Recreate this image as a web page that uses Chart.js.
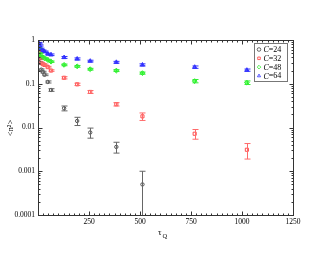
<!DOCTYPE html>
<html>
<head>
<meta charset="utf-8">
<script src="https://cdn.jsdelivr.net/npm/chart.js"></script>
<style>
  html, body { margin: 0; padding: 0; background: #fff; }
  #wrap { width: 330px; height: 255px; }
</style>
</head>
<body>
<div id="wrap"><canvas id="c" width="330" height="255"></canvas></div>
<script>
// ======= DATA =======
const tau = [4, 8, 16, 24, 32, 48, 64, 128, 192, 256, 384, 512, 768, 1024];
const tau24 = [4, 8, 16, 24, 32, 48, 64, 128, 192, 256, 384, 512];

const c24 = [0.37, 0.30, 0.21, 0.185, 0.16, 0.11, 0.072, 0.0275, 0.0141, 0.0077, 0.0036, 0.0005];
const c24Err = [0.01, 0.01, 0.008, 0.008, 0.007, 0.006, 0.005, 0.0035, 0.003, 0.002, 0.001, 0.0005];

const c32 = [0.53, 0.38, 0.30, 0.28, 0.27, 0.24, 0.20, 0.137, 0.097, 0.065, 0.034, 0.018, 0.0072, 0.0031];
const c32Err = [0.02, 0.015, 0.01, 0.01, 0.01, 0.01, 0.008, 0.008, 0.006, 0.005, 0.003, 0.0035, 0.0018, 0.0012];

const c48 = [0.63, 0.51, 0.43, 0.40, 0.38, 0.35, 0.32, 0.27, 0.25, 0.215, 0.20, 0.175, 0.115, 0.106];
const c48Err = [0.02, 0.015, 0.015, 0.012, 0.012, 0.012, 0.012, 0.012, 0.012, 0.01, 0.01, 0.01, 0.01, 0.01];

const c64 = [0.85, 0.75, 0.63, 0.57, 0.54, 0.48, 0.46, 0.40, 0.37, 0.33, 0.31, 0.27, 0.24, 0.205];
const c64Err = [0.03, 0.025, 0.02, 0.02, 0.02, 0.02, 0.02, 0.02, 0.02, 0.015, 0.015, 0.015, 0.015, 0.012];

const seriesNames = ['C=24', 'C=32', 'C=48', 'C=64'];
const yTickValues = [0.0001, 0.001, 0.01, 0.1, 1];
const yTickLabels = ['0.0001', '0.001', '0.01', '0.1', '1'];
const xTickLabels = ['', '250', '500', '750', '1000', '1250'];

const FONT = '"Liberation Serif", "DejaVu Serif", serif';

function pts(xs, ys, es) {
  return ys.map((v, i) => ({ x: xs[i], y: v, err: es[i] }));
}

// ======= PLUGINS =======
// error bars drawn through the scales
const errorBars = {
  id: 'errorBars',
  afterDatasetsDraw(chart) {
    const ctx = chart.ctx;
    const xs = chart.scales.x, ys = chart.scales.y;
    const area = chart.chartArea;
    ctx.save();
    ctx.beginPath();
    ctx.rect(area.left, area.top, area.right - area.left, area.bottom - area.top);
    ctx.clip();
    chart.data.datasets.forEach(ds => {
      ctx.strokeStyle = ds.errColor;
      ctx.lineWidth = 1;
      ds.data.forEach(p => {
        const px = Math.round(xs.getPixelForValue(p.x)) + 0.5;
        const hi = ys.getPixelForValue(p.y + p.err);
        const lo = (p.y - p.err) > 0 ? ys.getPixelForValue(p.y - p.err) : area.bottom + 2;
        ctx.beginPath();
        ctx.moveTo(px, hi); ctx.lineTo(px, lo);
        ctx.moveTo(px - 3, hi); ctx.lineTo(px + 3, hi);
        if ((p.y - p.err) > 0) { ctx.moveTo(px - 3, lo); ctx.lineTo(px + 3, lo); }
        ctx.stroke();
      });
    });
    ctx.restore();
  }
};

// frame, inward ticks, axis titles and legend box
const frame = {
  id: 'frame',
  afterDraw(chart) {
    const ctx = chart.ctx;
    const a = chart.chartArea;
    const xs = chart.scales.x, ys = chart.scales.y;
    ctx.save();
    ctx.strokeStyle = '#333';
    ctx.lineWidth = 1;
    const L = Math.round(a.left) + 0.5, R = Math.round(a.right) + 0.5;
    const T = Math.round(a.top) + 0.5, B = Math.round(a.bottom) + 0.5;
    ctx.strokeRect(L, T, R - L, B - T);

    ctx.beginPath();
    // x ticks every 25, major every 250
    for (let v = 0; v <= 1250; v += 25) {
      const px = Math.round(xs.getPixelForValue(v)) + 0.5;
      const len = v % 250 === 0 ? 4 : 2;
      ctx.moveTo(px, B); ctx.lineTo(px, B - len);
      ctx.moveTo(px, T); ctx.lineTo(px, T + len);
    }
    // y ticks, log decades with minor 2..9
    for (let d = -4; d <= 0; d++) {
      for (let m = 1; m <= 9; m++) {
        const v = m * Math.pow(10, d);
        if (v > 1.0001) break;
        const py = Math.round(ys.getPixelForValue(v)) + 0.5;
        const len = m === 1 ? 4 : 2;
        ctx.moveTo(L, py); ctx.lineTo(L + len, py);
        ctx.moveTo(R, py); ctx.lineTo(R - len, py);
      }
    }
    ctx.stroke();

    // x axis title: tau with subscript Q
    ctx.fillStyle = '#000';
    ctx.textBaseline = 'alphabetic';
    ctx.textAlign = 'left';
    ctx.font = '9px ' + FONT;
    ctx.fillText('\u03C4', 158, 235);
    ctx.font = '6.5px ' + FONT;
    ctx.fillText('Q', 162.5, 238);

    // y axis title: <n²>
    ctx.save();
    ctx.translate(13, 128);
    ctx.rotate(-Math.PI / 2);
    ctx.textAlign = 'center';
    ctx.font = '8.5px ' + FONT;
    ctx.fillText('<n\u00B2>', 0, 0);
    ctx.restore();

    // legend
    const bx = 254.5, by = 43.5, bw = 33, bh = 38;
    ctx.fillStyle = '#fff';
    ctx.fillRect(bx, by, bw, bh);
    ctx.strokeStyle = '#777';
    ctx.strokeRect(bx, by, bw, bh);
    chart.data.datasets.forEach((ds, i) => {
      const cy = by + 6 + i * 8.8;
      ctx.strokeStyle = ds.borderColor;
      ctx.fillStyle = 'rgba(255,255,255,0)';
      ctx.lineWidth = 0.8;
      Chart.helpers.drawPoint(ctx, {
        pointStyle: ds.pointStyle, radius: 1.8, rotation: 0, borderWidth: 0.8
      }, bx + 4.5, cy);
      ctx.fillStyle = '#000';
      ctx.textBaseline = 'middle';
      ctx.textAlign = 'left';
      ctx.font = 'italic 8px ' + FONT;
      ctx.fillText('C', bx + 9, cy + 0.5);
      const w = ctx.measureText('C').width;
      ctx.font = '8px ' + FONT;
      ctx.fillText(seriesNames[i].slice(1), bx + 9 + w, cy + 0.5);
    });
    ctx.restore();
  }
};

// ======= CHART =======
const ctx = document.getElementById('c').getContext('2d');
new Chart(ctx, {
  type: 'scatter',
  data: {
    datasets: [
      {
        label: seriesNames[0], data: pts(tau24, c24, c24Err),
        pointStyle: 'circle', borderColor: '#444', backgroundColor: 'rgba(255,255,255,0)',
        errColor: '#666', pointRadius: 1.7, borderWidth: 0.9
      },
      {
        label: seriesNames[1], data: pts(tau, c32, c32Err),
        pointStyle: 'rect', borderColor: '#ff3b3b', backgroundColor: 'rgba(255,255,255,0)',
        errColor: '#ff6a6a', pointRadius: 2.2, borderWidth: 0.9
      },
      {
        label: seriesNames[2], data: pts(tau, c48, c48Err),
        pointStyle: 'rectRot', borderColor: '#22ee22', backgroundColor: '#66ff66',
        errColor: '#33ee33', pointRadius: 2.4, borderWidth: 0.9
      },
      {
        label: seriesNames[3], data: pts(tau, c64, c64Err),
        pointStyle: 'triangle', borderColor: '#3030ff', backgroundColor: '#5555ff',
        errColor: '#3030ff', pointRadius: 2.4, borderWidth: 0.9
      }
    ]
  },
  options: {
    responsive: false,
    animation: false,
    layout: { padding: { top: 40, right: 37, left: 0, bottom: 0 } },
    plugins: { legend: { display: false }, tooltip: { enabled: false } },
    scales: {
      x: {
        type: 'linear', min: 0, max: 1250,
        grid: { display: false, drawTicks: false },
        border: { display: false },
        ticks: {
          stepSize: 250, padding: 3, maxRotation: 0,
          color: '#000', font: { family: FONT, size: 7.5 },
          callback: (v, i) => xTickLabels[i]
        },
        afterFit(s) { s.height = 40; }
      },
      y: {
        type: 'logarithmic', min: 0.0001, max: 1,
        grid: { display: false, drawTicks: false },
        border: { display: false },
        afterBuildTicks(s) { s.ticks = yTickValues.map(v => ({ value: v })); },
        ticks: {
          padding: 3, color: '#000', font: { family: FONT, size: 7.5 },
          callback: (v, i) => yTickLabels[i]
        },
        afterFit(s) { s.width = 38; }
      }
    }
  },
  plugins: [errorBars, frame]
});
</script>
</body>
</html>
